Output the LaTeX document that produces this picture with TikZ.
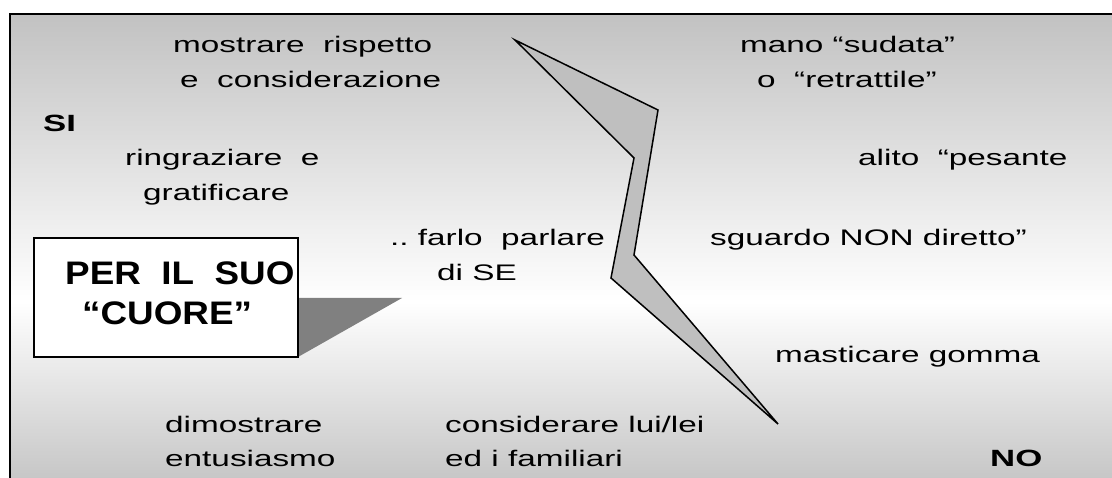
\documentclass[tikz,border=0pt]{standalone}
\usepackage{fontspec}
\setmainfont{Liberation Sans}[FakeStretch=1.48]
\newfontfamily\boxfont{Liberation Sans}[FakeStretch=1.13]
\definecolor{bgtop}{gray}{0.76}
\definecolor{bgbot}{gray}{0.78}
\definecolor{boltgray}{gray}{0.75}
\definecolor{shadowgray}{gray}{0.5}
\pgfdeclareverticalshading{bgshade}{100bp}{color(0bp)=(bgbot); color(25bp)=(bgbot); color(44bp)=(white); color(75bp)=(bgtop); color(100bp)=(bgtop)}
\newcommand\ttab[3]{\begin{tabular}[t]{@{}#1@{}}#2\\#3\end{tabular}}
\tikzset{
  txt/.style={anchor=base west, inner sep=0pt, font=\fontsize{22.5}{35}\selectfont},
  bigtxt/.style={anchor=base west, inner sep=0pt, font=\fontsize{23.5}{30}\selectfont\bfseries},
  boxtxt/.style={anchor=base west, inner sep=0pt, font=\boxfont\fontsize{32.6}{40}\selectfont\bfseries},
  cuorebox/.style={draw=black, line width=2pt, fill=white, minimum width=264pt, minimum height=119pt, inner sep=0pt},
  bolt/.style={draw=black, line width=1.5pt, fill=boltgray, line join=miter},
}
\begin{document}
\begin{tikzpicture}[x=1pt,y=-1pt]
\useasboundingbox (0,0) rectangle (1112,478);
\clip (0,0) rectangle (1112,478);
\shade[shading=bgshade] (10,14) rectangle (1112,478);
\draw[line width=2.5pt] (10,482) -- (10,14) -- (1116,14);
% lightning bolt
\draw[bolt] (515,40) -- (658,110) -- (634,255) -- (778,424) -- (611,278) -- (634,158) -- cycle;
% shadow and box
\fill[shadowgray] (298,298) -- (402,298) -- (298,357) -- cycle;
\node[cuorebox] (cuore) at (166,297.5) {};
\node[boxtxt] (cuoretxt) at (65,285) {\ttab{l}{PER\ \ IL\ \ SUO}{\hspace*{17pt}“CUORE”}};
% texts
\node[txt] (rispetto) at (173,53) {\ttab{l}{mostrare\ \ rispetto}{\hspace*{7pt}e\ \ considerazione}};
\node[txt] (mano) at (740,53) {\ttab{l}{mano “sudata”}{\hspace*{17pt}o\ \ “retrattile”}};
\node[bigtxt] (si) at (43,132) {SI};
\node[txt] (ringraziare) at (125,166) {\ttab{l}{ringraziare\ \ e}{\hspace*{18pt}gratificare}};
\node[txt] (alito) at (858,166) {alito\ \ “pesante};
\node[txt] (farlo) at (390,246) {\ttab{l}{..\ farlo\ \ parlare}{\hspace*{47pt}di SE}};
\node[txt] (sguardo) at (710,246) {sguardo NON diretto”};
\node[txt] (masticare) at (775,363) {masticare gomma};
\node[txt] (dimostrare) at (165,432) {\ttab{l}{dimostrare}{entusiasmo}};
\node[txt] (considerare) at (445,432) {\ttab{l}{considerare lui/lei}{ed i familiari}};
\node[bigtxt] (no) at (990,467) {NO};
\end{tikzpicture}
\end{document}
